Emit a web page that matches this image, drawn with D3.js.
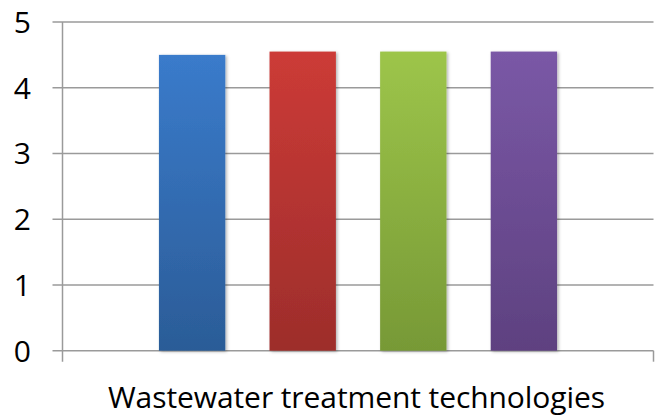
<!DOCTYPE html>
<html><head><meta charset="utf-8">
<script src="https://cdn.jsdelivr.net/npm/d3@7"></script>
<style>html,body{margin:0;padding:0;background:#fff;}</style>
</head><body>
<svg id="c" width="664" height="419"></svg>
<script>
const categories = ["Wastewater treatment technologies"];
const seriesNames = ["Series 1", "Series 2", "Series 3", "Series 4"];
const seriesValues = [4.5, 4.55, 4.55, 4.55];
const yTicks = [0, 1, 2, 3, 4, 5];
const topColors = ["#3A7BCB", "#CC3B37", "#9DC54A", "#7A58A6"];
const bottomColors = ["#2B5C97", "#9D2D2B", "#779936", "#5E4180"];

(function () {
const svg = d3.select("#c");
const mLeft = 62.5, mRight = 653.5, mTop = 22, mBottom = 350.7;
const font = "'Open Sans', Lato, sans-serif";

const y = d3.scaleLinear().domain([0, 5]).range([mBottom, mTop]);
const x0 = d3.scaleBand().domain(categories).range([mLeft, mRight]).padding(0);
const x1 = d3.scaleBand().domain(seriesNames).range([0, x0.bandwidth()])
  .paddingInner(0.4).paddingOuter(0.872);

const defs = svg.append("defs");
seriesNames.forEach((s, i) => {
  const g = defs.append("linearGradient").attr("id", "g" + i)
    .attr("x1", 0).attr("y1", 0).attr("x2", 0).attr("y2", 1);
  g.append("stop").attr("offset", "0%").attr("stop-color", topColors[i]);
  g.append("stop").attr("offset", "100%").attr("stop-color", bottomColors[i]);
});
const f = defs.append("filter").attr("id", "sh").attr("x", "-20%").attr("y", "-10%").attr("width", "140%").attr("height", "120%");
f.append("feDropShadow").attr("dx", 1.5).attr("dy", 1).attr("stdDeviation", 1.5).attr("flood-color", "#000").attr("flood-opacity", 0.3);

svg.append("g").selectAll("line").data(yTicks).join("line")
  .attr("x1", mLeft - 10).attr("x2", mRight)
  .attr("y1", d => y(d)).attr("y2", d => y(d))
  .attr("stroke", "#9a9a9a").attr("stroke-width", 1.5);

svg.append("line").attr("x1", mLeft).attr("x2", mLeft)
  .attr("y1", mTop).attr("y2", mBottom + 11)
  .attr("stroke", "#9a9a9a").attr("stroke-width", 1.5);
svg.append("line").attr("x1", mRight).attr("x2", mRight)
  .attr("y1", mBottom).attr("y2", mBottom + 11)
  .attr("stroke", "#9a9a9a").attr("stroke-width", 1.5);

const cat = svg.append("g").attr("transform", `translate(${x0(categories[0])},0)`);
cat.selectAll("rect").data(seriesValues).join("rect")
  .attr("x", (d, i) => x1(seriesNames[i]))
  .attr("width", x1.bandwidth())
  .attr("y", d => y(d))
  .attr("height", d => y(0) - y(d))
  .attr("fill", (d, i) => `url(#g${i})`)
  .attr("filter", "url(#sh)");

svg.append("g").selectAll("text").data(yTicks).join("text")
  .attr("x", 31).attr("y", d => y(d) + 10.8)
  .attr("text-anchor", "end")
  .attr("font-family", font).attr("font-size", 30)
  .attr("fill", "#000")
  .text(d => d);

svg.append("text")
  .attr("x", x0(categories[0]) + x0.bandwidth() / 2 - 1.5)
  .attr("y", 407.5)
  .attr("text-anchor", "middle")
  .attr("font-family", font).attr("font-size", 30)
  .attr("textLength", 497).attr("lengthAdjust", "spacing")
  .attr("fill", "#000")
  .text(categories[0]);
})();
</script>
</body></html>
